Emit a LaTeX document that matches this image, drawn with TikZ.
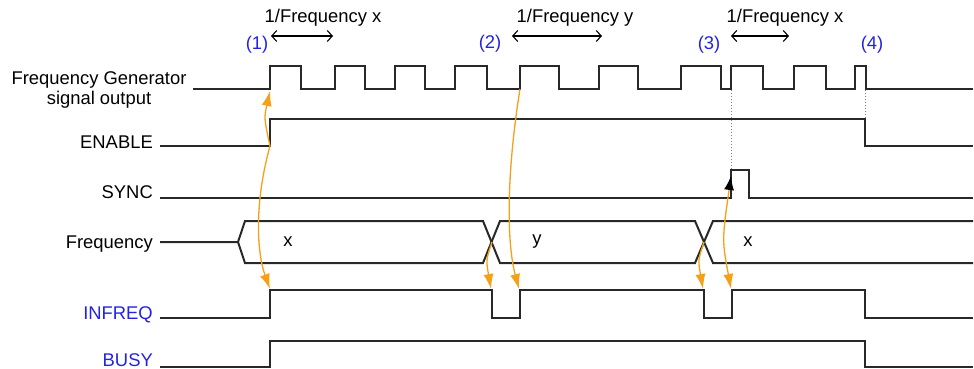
\documentclass[tikz,border=0pt]{standalone}
\usepackage{fontspec}
\setmainfont{Liberation Sans}
\usepackage{xcolor}
\definecolor{evtblue}{RGB}{35,35,225}
\definecolor{causeorange}{RGB}{245,160,25}
\definecolor{wavegray}{RGB}{40,40,40}
\usetikzlibrary{arrows.meta}

\tikzset{otip/.tip={Latex[length=15pt,width=10pt]}}

\begin{document}
\begin{tikzpicture}[
      x=1pt, y=-1pt,
      font=\fontsize{18.4}{20.5}\selectfont,
      wave/.style={draw=wavegray, line width=2pt},
      signame/.style={anchor=base east, inner sep=0pt},
      evt/.style={text=evtblue, inner sep=0pt},
      cause/.style={draw=causeorange, line width=1.3pt},
      period/.style={line width=1.1pt,
                     {Straight Barb[length=5pt,width=11pt]}-{Straight Barb[length=5pt,width=11pt]}},
      guide/.style={draw=gray, line width=1pt, dotted}
  ]
  \useasboundingbox (0,0) rectangle (974,369);

  % signal names
  \node[align=center, inner sep=0pt] (fg) at (99,90) {Frequency Generator\\signal output};
  \node[signame] (en) at (153,148) {ENABLE};
  \node[signame] (sy) at (153,198) {SYNC};
  \node[signame] (fq) at (153,248) {Frequency};
  \node[signame, text=evtblue] (iq) at (153,319) {INFREQ};
  \node[signame, text=evtblue] (bu) at (153,366.5) {BUSY};

  % events and periods
  \node[evt] (e1) at (257,45) {(1)};
  \node[evt] (e2) at (490,44) {(2)};
  \node[evt] (e3) at (709,45) {(3)};
  \node[evt] (e4) at (872,45) {(4)};
  \node (t1) at (323,18) {1/Frequency x};
  \node (t2) at (575,18) {1/Frequency y};
  \node (t3) at (785,18) {1/Frequency x};
  \draw[period] (271,36) -- (333,36);
  \draw[period] (512,36) -- (602,36);
  \draw[period] (731,36) -- (789,36);

  % waveforms
  \draw[wave] (193,89)
    \foreach \r/\f in {270/301,335/365,395/425,455/487,520/559,599/638,
                       681/721,731/763,794/826,855/866}
      { -- (\r,89) -- (\r,66) -- (\f,66) -- (\f,89) } -- (973,89);
  \draw[wave] (160,146) -- (270,146) -- (270,119) -- (865,119) -- (865,146) -- (973,146);
  \draw[wave] (160,198) -- (731,198) -- (731,170) -- (749,170) -- (749,198) -- (973,198);
  \draw[wave] (160,242) -- (238,242) -- (245,221) -- (483,221) -- (500,263)
              -- (695,263) -- (713,221) -- (973,221);
  \draw[wave] (238,242) -- (245,263) -- (483,263) -- (500,221)
              -- (695,221) -- (713,263) -- (973,263);
  \node (vx1) at (288,242) {x};
  \node (vy) at (537,242) {y};
  \node (vx2) at (748,242) {x};
  \draw[wave] (160,318) -- (270,318) -- (270,290) -- (492,290) -- (492,318) -- (520,318)
              -- (520,290) -- (704,290) -- (704,318) -- (732,318) -- (732,290)
              -- (865,290) -- (865,318) -- (973,318);
  \draw[wave] (160,367) -- (270,367) -- (270,341) -- (865,341) -- (865,367) -- (973,367);

  % dotted guides
  \draw[guide] (731,90) -- (731,169);
  \draw[guide] (865,90) -- (865,118);

  % cause arrows
  \coordinate (fgA) at (270,91);
  \coordinate (enA) at (270,146);
  \coordinate (iqA) at (270,289);
  \coordinate (fgB) at (520,89);
  \coordinate (iqB) at (519,289);
  \coordinate (fqB) at (492,242);
  \coordinate (iqB0) at (491,289);
  \coordinate (fqC) at (704,242);
  \coordinate (iqC0) at (703,289);
  \coordinate (syC) at (731,176);
  \coordinate (iqC) at (731,289);
  \draw[cause, otip-otip] (fgA) .. controls (264,118) .. (enA)
        .. controls (255,200) and (256,250) .. (iqA);
  \draw[cause, -otip] (fgB) .. controls (507,170) and (506,240) .. (iqB);
  \draw[cause, -otip] (fqB) .. controls (486,260) .. (iqB0);
  \draw[cause, -otip] (fqC) .. controls (698,260) .. (iqC0);
  \draw[cause, {Latex[length=14pt,width=10pt,color=black]}-otip] (syC)
        .. controls (722,240) .. (iqC);
\end{tikzpicture}
\end{document}
